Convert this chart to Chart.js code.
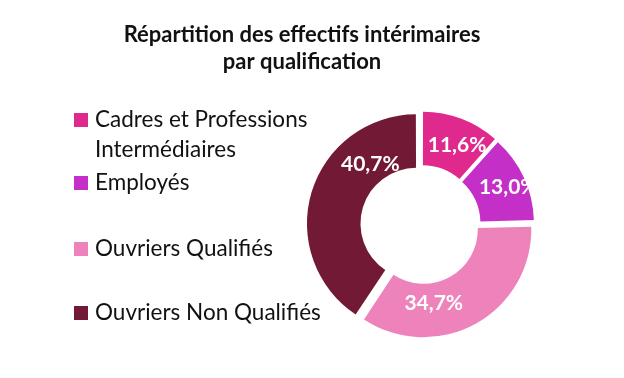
<!DOCTYPE html>
<html>
<head>
<meta charset="utf-8">
<script src="https://cdn.jsdelivr.net/npm/chart.js@4.4.0/dist/chart.umd.min.js"></script>
<style>
  html, body { margin: 0; padding: 0; background: #fff; }
  #wrap { position: relative; width: 624px; height: 378px; }
</style>
</head>
<body>
<div id="wrap"><canvas id="myChart" width="624" height="378"></canvas></div>
<script>
// data
var titleLines = ['Répartition des effectifs intérimaires', 'par qualification'];
var labels = ['Cadres et Professions Intermédiaires', 'Employés', 'Ouvriers Qualifiés', 'Ouvriers Non Qualifiés'];
var legendLines = [['Cadres et Professions', 'Intermédiaires'], ['Employés'], ['Ouvriers Qualifiés'], ['Ouvriers Non Qualifiés']];
var values = [11.6, 13.0, 34.7, 40.7];
var colors = ['#e0298c', '#c42fc8', '#ee83bc', '#721a35'];

var FONT = 'Lato, "Open Sans", sans-serif';

// where the legend rows sit (baseline of first line)
var legendBaselines = [127, 190, 256, 320];
// where each % label sits inside its slice: fraction along arc, fraction across ring
var labelAlong = [0.59, 0.53, 0.67, 0.75];
var labelAcross = [0.51, 0.66, 0.37, 0.37];

//same shift that chart.js applies to an exploded arc
function arcShift(arc, offset) {
  var circ = arc.endAngle - arc.startAngle;
  var fix = 1 - Math.sin(Math.min(Math.PI, circ));
  return offset / 4 * (1 + fix);
}

//draws title, legend and percentage labels on the canvas
var decorPlugin = {
  id: 'decor',
  afterDraw: function(chart) {
    var ctx = chart.ctx;
    ctx.save();
    // title
    ctx.fillStyle = '#111';
    ctx.font = 'bold 22px ' + FONT;
    ctx.textAlign = 'center';
    ctx.textBaseline = 'alphabetic';
    ctx.fillText(titleLines[0], 302, 42);
    ctx.fillText(titleLines[1], 302, 69);

    // legend
    ctx.textAlign = 'left';
    ctx.font = '22.5px ' + FONT;
    for (var i = 0; i < legendLines.length; i++) {
      var b = legendBaselines[i];
      ctx.fillStyle = colors[i];
      ctx.fillRect(74, b - 14, 14, 14);
      ctx.fillStyle = '#111';
      for (var j = 0; j < legendLines[i].length; j++) {
        ctx.fillText(legendLines[i][j], 95, b + j * 30);
      }
    }

    // percentage labels
    var meta = chart.getDatasetMeta(0);
    var off = chart.data.datasets[0].offset;
    ctx.font = 'bold 21px ' + FONT;
    ctx.fillStyle = '#fff';
    ctx.textAlign = 'center';
    ctx.textBaseline = 'middle';
    meta.data.forEach(function(arc, k) {
      var p = arc.getProps(['x', 'y', 'startAngle', 'endAngle', 'innerRadius', 'outerRadius']);
      var mid = (p.startAngle + p.endAngle) / 2;
      var s = arcShift(p, off);
      var a = p.startAngle + labelAlong[k] * (p.endAngle - p.startAngle);
      var r = p.innerRadius + labelAcross[k] * (p.outerRadius - p.innerRadius);
      var x = p.x + s * Math.cos(mid) + r * Math.cos(a);
      var y = p.y + s * Math.sin(mid) + r * Math.sin(a);
      ctx.fillText(values[k].toFixed(1).replace('.', ',') + '%', x, y);
    });
    ctx.restore();
  }
};

const config = {
  type: 'doughnut',
  data: {
    labels: labels,
    datasets: [{
      data: values,
      backgroundColor: colors,
      borderWidth: 0,
      offset: 20,
      hoverOffset: 20
    }]
  },
  options: {
    responsive: false,
    animation: false,
    cutout: '50%',
    layout: { padding: { left: 304, right: 86, top: 108, bottom: 36 } },
    plugins: {
      legend: { display: false },
      title: { display: false },
      tooltip: { enabled: false }
    }
  },
  plugins: [decorPlugin]
};

var myChart = new Chart(document.getElementById('myChart'), config);
</script>
</body>
</html>
